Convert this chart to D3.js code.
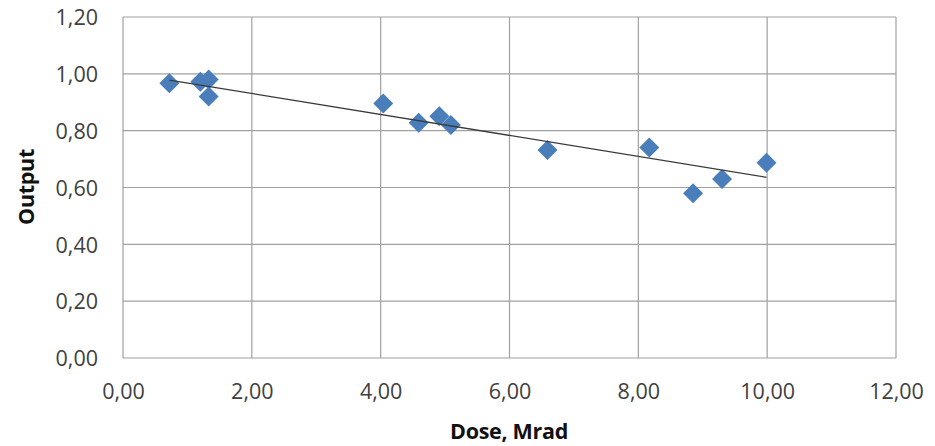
<!DOCTYPE html>
<html><head><meta charset="utf-8">
<script src="https://cdn.jsdelivr.net/npm/d3@7"></script>
<style>body{margin:0;background:#fff}svg{display:block}</style>
</head><body>
<svg id="c" width="935" height="446"></svg>
<script>
const doseValues = [0.72, 1.20, 1.33, 1.33, 4.04, 4.59, 4.91, 5.09, 6.59, 8.17, 8.85, 9.30, 9.99];
const outputValues = [0.967, 0.972, 0.980, 0.920, 0.896, 0.828, 0.851, 0.820, 0.732, 0.741, 0.580, 0.630, 0.687];
const trendX = [0.72, 9.99];
const trendY = [0.978, 0.636];
const xTicks = [0, 2, 4, 6, 8, 10, 12];
const yTicks = [0, 0.2, 0.4, 0.6, 0.8, 1.0, 1.2];
const xTitle = "Dose, Mrad";
const yTitle = "Output";

const svg = d3.select("#c");
const L = 123, R = 896, T = 17, B = 358;
const x = d3.scaleLinear().domain([0, 12]).range([L, R]);
const y = d3.scaleLinear().domain([0, 1.2]).range([B, T]);
const fmt = v => d3.format(".2f")(v).replace(".", ",");
const font = "'Open Sans', sans-serif";

// grid
svg.append("g").selectAll("line.v").data(xTicks).join("line")
  .attr("x1", d => x(d)).attr("x2", d => x(d)).attr("y1", T).attr("y2", B)
  .attr("stroke", "#a0a0a0").attr("stroke-width", 1.2);
svg.append("g").selectAll("line.h").data(yTicks).join("line")
  .attr("x1", L).attr("x2", R).attr("y1", d => y(d)).attr("y2", d => y(d))
  .attr("stroke", "#a0a0a0").attr("stroke-width", 1.2);

// axes labels
const xAxis = d3.axisBottom(x).tickValues(xTicks).tickFormat(fmt).tickSize(0).tickPadding(0);
const gx = svg.append("g").attr("transform", `translate(0,${B})`).call(xAxis);
gx.select(".domain").remove();
gx.selectAll("text").attr("font-family", font).attr("font-size", 21.5).attr("fill", "#404040")
  .attr("y", 41).attr("dy", 0);

const yAxis = d3.axisLeft(y).tickValues(yTicks).tickFormat(fmt).tickSize(0).tickPadding(25);
const gy = svg.append("g").attr("transform", `translate(${L},0)`).call(yAxis);
gy.select(".domain").remove();
gy.selectAll("text").attr("font-family", font).attr("font-size", 21.5).attr("fill", "#404040")
  .attr("dy", "0.36em");

// points
const pts = doseValues.map((d, i) => [d, outputValues[i]]);
svg.append("g").selectAll("path").data(pts).join("path")
  .attr("d", d3.symbol(d3.symbolSquare, 200)())
  .attr("transform", d => `translate(${x(d[0])},${y(d[1])}) rotate(45)`)
  .attr("fill", "#4a7ebb");

// trendline
svg.append("line")
  .attr("x1", x(trendX[0])).attr("y1", y(trendY[0]))
  .attr("x2", x(trendX[1])).attr("y2", y(trendY[1]))
  .attr("stroke", "#3a3a3a").attr("stroke-width", 1.3);

// titles
svg.append("text").attr("x", 509).attr("y", 439).attr("text-anchor", "middle")
  .attr("font-family", font).attr("font-weight", "bold").attr("font-size", 21.5).attr("fill", "#111")
  .attr("letter-spacing", -0.3).text(xTitle);
svg.append("text").attr("transform", `translate(34,187) rotate(-90)`).attr("text-anchor", "middle")
  .attr("font-family", font).attr("font-weight", "bold").attr("font-size", 21.5).attr("fill", "#111")
  .attr("letter-spacing", -0.3).text(yTitle);
</script>
</body></html>
